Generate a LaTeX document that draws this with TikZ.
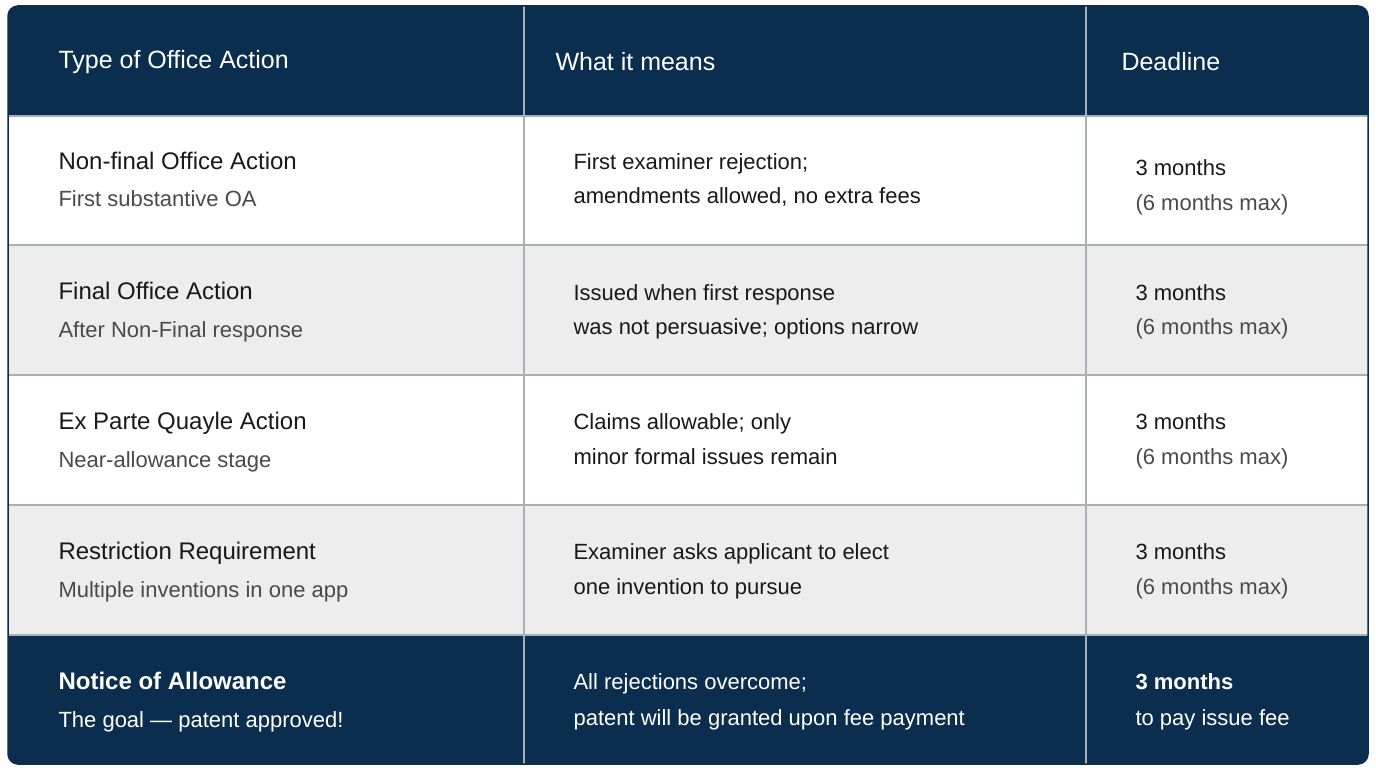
\documentclass[tikz,border=0pt]{standalone}
\usepackage{fontspec}
\setmainfont{Liberation Sans}
\usepackage{xcolor}
\usetikzlibrary{positioning}
\definecolor{navy}{HTML}{0B2D4E}
\definecolor{rowgray}{HTML}{EDEDED}
\definecolor{subgray}{HTML}{4A4A4A}
\definecolor{gridgray}{HTML}{A9AFB6}
\tikzset{
  head/.style={anchor=west,text=white,font=\fontsize{25}{30}\selectfont},
  title/.style={anchor=base west,text=black!90,font=\fontsize{24}{28}\selectfont},
  sub/.style={anchor=base west,text=subgray,font=\fontsize{22}{26}\selectfont},
  ftitle/.style={anchor=base west,text=white,font=\bfseries\fontsize{24}{28}\selectfont},
  fsub/.style={anchor=base west,text=white,font=\fontsize{22}{26}\selectfont},
}
\begin{document}
\begin{tikzpicture}[x=1pt,y=-1pt]
   \useasboundingbox (0,0) rectangle (1376,768);
   \fill[white] (0,0) rectangle (1376,768);
   % table body
   \begin{scope}
     \clip[rounded corners=10pt] (8,6) rectangle (1368,764);
     \fill[white] (8,6) rectangle (1368,764);
     \fill[navy] (8,6) rectangle (1368,116);
     \fill[rowgray] (8,245) rectangle (1368,375);
     \fill[rowgray] (8,505) rectangle (1368,635);
     \fill[navy] (8,635) rectangle (1368,764);
     \draw[gridgray,line width=1.2pt] (8,116) -- (1368,116) (8,245) -- (1368,245)
        (8,375) -- (1368,375) (8,505) -- (1368,505) (8,635) -- (1368,635);
     \draw[gridgray,line width=1.2pt] (524,6) -- (524,764) (1086,6) -- (1086,764);
   \end{scope}
   \draw[navy,line width=1.5pt,rounded corners=10pt] (8,6) rectangle (1368,764);
   % header
   \node[head] (h1) at (55,62) {Type of Office Action};
   \node[head] (h2) at (552,62) {What it means};
   \node[head] (h3) at (1118,62) {Deadline};
   % rows
   \node[title] (t1) at (55,169) {Non-final Office Action};
   \node[sub] (s1) at (55,206) {First substantive OA};
   \node[sub,text=black!90] (m1a) at (570,169) {First examiner rejection;};
   \node[sub,text=black!90] (m1b) at (570,203) {amendments allowed, no extra fees};
   \node[sub,text=black!90] (d1a) at (1132,175) {3 months};
   \node[sub] (d1b) at (1132,210) {(6 months max)};
   \node[title] (t2) at (55,299) {Final Office Action};
   \node[sub] (s2) at (55,337) {After Non-Final response};
   \node[sub,text=black!90] (m2a) at (570,300) {Issued when first response};
   \node[sub,text=black!90] (m2b) at (570,334) {was not persuasive; options narrow};
   \node[sub,text=black!90] (d2a) at (1132,300) {3 months};
   \node[sub] (d2b) at (1132,334) {(6 months max)};
   \node[title] (t3) at (55,429) {Ex Parte Quayle Action};
   \node[sub] (s3) at (55,467) {Near-allowance stage};
   \node[sub,text=black!90] (m3a) at (570,429) {Claims allowable; only};
   \node[sub,text=black!90] (m3b) at (570,464) {minor formal issues remain};
   \node[sub,text=black!90] (d3a) at (1132,429) {3 months};
   \node[sub] (d3b) at (1132,464) {(6 months max)};
   \node[title] (t4) at (55,559) {Restriction Requirement};
   \node[sub] (s4) at (55,597) {Multiple inventions in one app};
   \node[sub,text=black!90] (m4a) at (570,559) {Examiner asks applicant to elect};
   \node[sub,text=black!90] (m4b) at (570,594) {one invention to pursue};
   \node[sub,text=black!90] (d4a) at (1132,559) {3 months};
   \node[sub] (d4b) at (1132,594) {(6 months max)};
   % footer
   \node[ftitle] (t5) at (55,689) {Notice of Allowance};
   \node[fsub] (s5) at (55,727) {The goal — patent approved!};
   \node[fsub] (m5a) at (570,689) {All rejections overcome;};
   \node[fsub] (m5b) at (570,725) {patent will be granted upon fee payment};
   \node[ftitle,font=\bfseries\fontsize{22}{26}\selectfont] (d5a) at (1132,689) {3 months};
   \node[fsub] (d5b) at (1132,725) {to pay issue fee};
\end{tikzpicture}
\end{document}
